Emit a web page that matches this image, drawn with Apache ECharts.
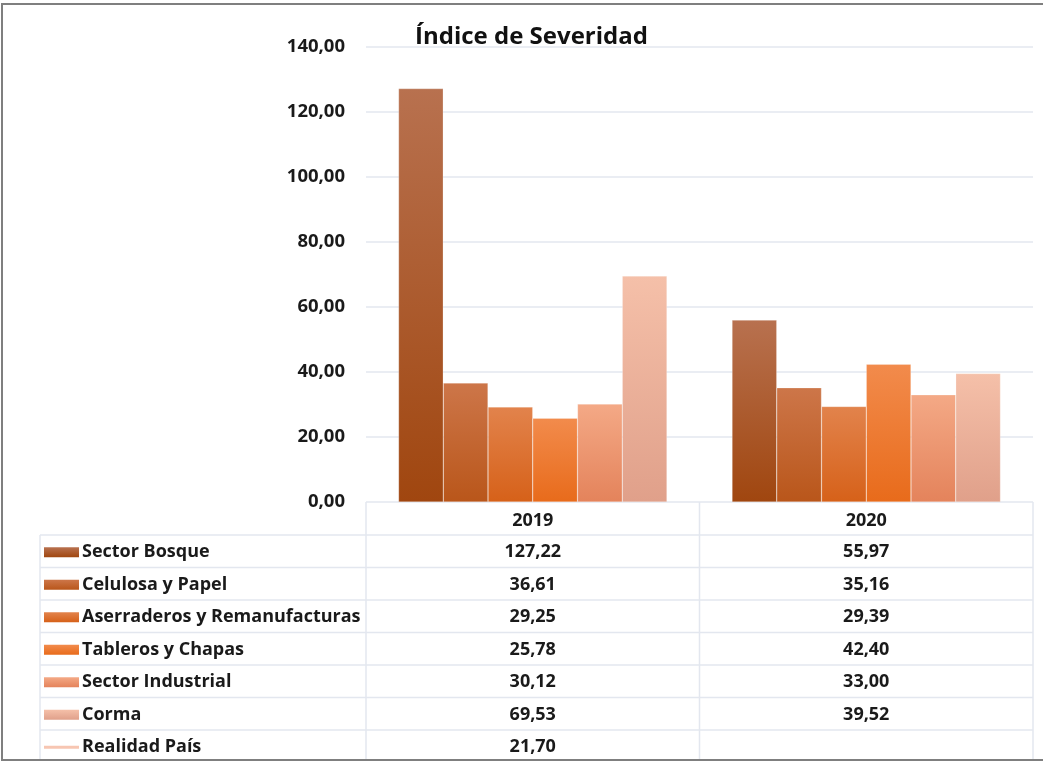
<!DOCTYPE html>
<html>
<head>
<meta charset="utf-8">
<title>Índice de Severidad</title>
<script src="https://cdn.jsdelivr.net/npm/echarts@6/dist/echarts.min.js"></script>
<style>
  html, body { margin: 0; background: #fff; }
  #chart { width: 1043px; height: 761px; }
</style>
</head>
<body>
<div id="chart"></div>
<script>
// datos del gráfico
const years = ["2019", "2020"];
const seriesNames = [
  "Sector Bosque",
  "Celulosa y Papel",
  "Aserraderos y Remanufacturas",
  "Tableros y Chapas",
  "Sector Industrial",
  "Corma",
  "Realidad País",
];
const sectorBosque = [127.22, 55.97];
const celulosaPapel = [36.61, 35.16];
const aserraderos = [29.25, 29.39];
const tablerosChapas = [25.78, 42.40];
const sectorIndustrial = [30.12, 33.00];
const corma = [69.53, 39.52];
const realidadPais = [21.70, null];
const yMin = 0, yMax = 140, yStep = 20;

const values = [sectorBosque, celulosaPapel, aserraderos, tablerosChapas, sectorIndustrial, corma, realidadPais];
// colores arriba -> abajo
const shades = [
  ["#b8714f", "#a0460f"],
  ["#cd7649", "#b9561a"],
  ["#e2834c", "#d66119"],
  ["#f28b4c", "#e86b1b"],
  ["#f4a986", "#e4835b"],
  ["#f5c0a9", "#e0a08a"],
  ["#f7c6b2", "#f7c6b2"],
];

const FONT = "Open Sans";
const fmt = (v) => (v == null ? "" : v.toFixed(2).replace(".", ","));
const grad = (c) => new echarts.graphic.LinearGradient(0, 0, 0, 1, [
  { offset: 0, color: c[0] }, { offset: 1, color: c[1] },
]);

const chart = echarts.init(document.getElementById("chart"), null, { renderer: "canvas" });

const series = values.map((data, i) => {
  if (i === 6) {
    return {
      name: seriesNames[i], type: "line", data,
      showSymbol: false, lineStyle: { color: shades[i][0], width: 3 },
    };
  }
  return {
    name: seriesNames[i], type: "bar", data,
    barGap: "0%", barCategoryGap: "19.5%",
    itemStyle: { color: grad(shades[i]), borderColor: "rgba(255,255,255,0.25)", borderWidth: 0.5 },
  };
});

chart.setOption({
  animation: false,
  backgroundColor: "#fff",
  title: {
    text: "Índice de Severidad", left: 410, top: 20,
    textStyle: { fontFamily: FONT, fontSize: 24, fontWeight: "bold", color: "#111" },
  },
  grid: { left: 366, right: 10, top: 47, bottom: 259 },
  xAxis: {
    type: "category", data: years,
    axisLine: { show: false }, axisTick: { show: false },
    axisLabel: { margin: 10, fontFamily: FONT, fontSize: 18, fontWeight: "bold", color: "#1a1a1a" },
  },
  yAxis: {
    type: "value", min: yMin, max: yMax, interval: yStep,
    axisLine: { show: false }, axisTick: { show: false },
    axisLabel: { margin: 21, formatter: fmt, fontFamily: FONT, fontSize: 18.5, fontWeight: "bold", color: "#1a1a1a" },
    splitLine: { lineStyle: { color: "#e3e7ef", width: 1.5 } },
  },
  series,
});

// tabla de datos bajo el eje
const y0 = chart.convertToPixel({ yAxisIndex: 0 }, 0);
const c0 = chart.convertToPixel({ xAxisIndex: 0 }, 0);
const c1 = chart.convertToPixel({ xAxisIndex: 0 }, 1);
const band = c1 - c0;
const xLeft = c0 - band / 2, xMid = c0 + band / 2, xRight = c1 + band / 2;
const tableLeft = 40, headerH = 33, rowH = 32.5;
const lineStyle = { stroke: "#e3e7ef", lineWidth: 1.5 };
const textStyle = { fontFamily: FONT, fontSize: 18, fontWeight: "bold", fill: "#1a1a1a" };

const g = [];
const bodyTop = y0 + headerH;
const bodyBottom = bodyTop + rowH * seriesNames.length;
[xLeft, xMid, xRight].forEach((x) => g.push({ type: "line", shape: { x1: x, y1: y0, x2: x, y2: bodyBottom }, style: lineStyle }));
g.push({ type: "line", shape: { x1: tableLeft, y1: bodyTop, x2: tableLeft, y2: bodyBottom }, style: lineStyle });
for (let i = 0; i <= seriesNames.length; i++) {
  const y = bodyTop + i * rowH;
  g.push({ type: "line", shape: { x1: tableLeft, y1: y, x2: xRight, y2: y }, style: lineStyle });
}
seriesNames.forEach((name, i) => {
  const cy = bodyTop + i * rowH + rowH / 2 + 1;
  if (i === 6) {
    g.push({ type: "line", shape: { x1: 44, y1: cy, x2: 79, y2: cy }, style: { stroke: shades[i][0], lineWidth: 3 } });
  } else {
    g.push({ type: "rect", shape: { x: 44, y: cy - 5, width: 35, height: 10 }, style: { fill: grad(shades[i]) } });
  }
  g.push({ type: "text", x: 82, y: cy, style: Object.assign({ text: name, textVerticalAlign: "middle" }, textStyle) });
  values[i].forEach((v, j) => {
    const cx = j === 0 ? c0 : c1;
    g.push({ type: "text", x: cx, y: cy, style: Object.assign({ text: fmt(v), textAlign: "center", textVerticalAlign: "middle" }, textStyle) });
  });
});
// marco exterior
g.push({ type: "rect", shape: { x: 2, y: 4, width: 1100, height: 756 }, style: { fill: "none", stroke: "#7f7f7f", lineWidth: 2 }, z: 100 });

chart.setOption({ graphic: g });
</script>
</body>
</html>
